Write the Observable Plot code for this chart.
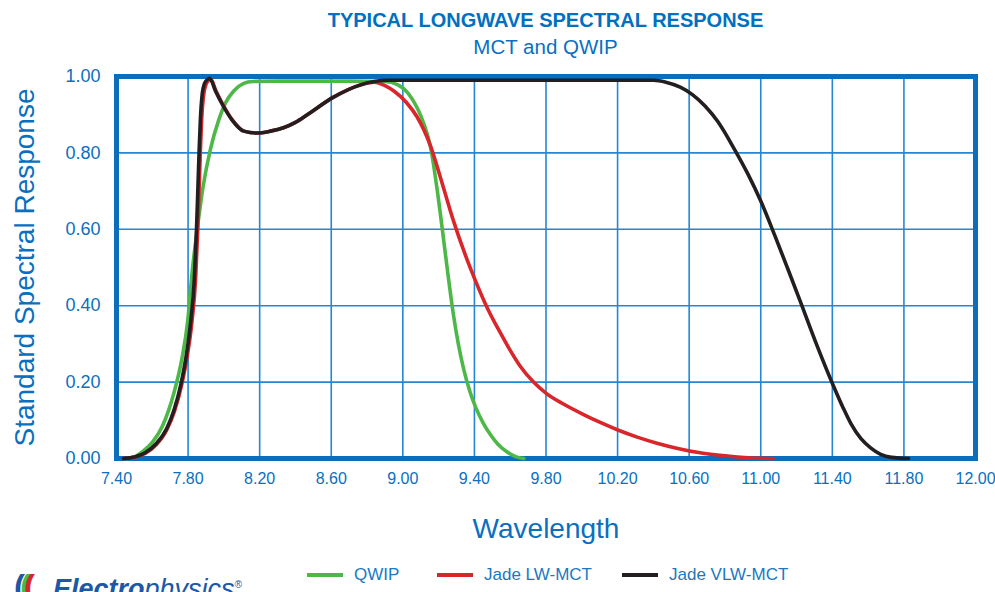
<!DOCTYPE html>
<html>
<head>
<meta charset="utf-8">
<script src="https://cdn.jsdelivr.net/npm/d3@7"></script>
<script src="https://cdn.jsdelivr.net/npm/@observablehq/plot@0.6"></script>
<style>
  html, body { margin: 0; padding: 0; background: #fff; overflow: hidden; }
  #page { position: relative; width: 995px; height: 592px; overflow: hidden; font-family: "Liberation Sans", Arial, Helvetica, sans-serif; color: #0a6fbf; }
  .title { position: absolute; left: 545.5px; transform: translateX(-50%); white-space: nowrap; }
  #t1 { top: 10px; font-size: 20px; line-height: 20px; font-weight: bold; color: #0070c0; }
  #t2 { top: 37px; font-size: 20.5px; line-height: 20.5px; color: #0a6fbf; }
  #chart { position: absolute; left: 0; top: 60px; }
  .leg { position: absolute; top: 565px; height: 20px; display: flex; align-items: center; font-size: 17px; white-space: nowrap; color: #1a78c2; }
  .sw { display: inline-block; width: 36px; height: 4px; margin-right: 11px; }
  #logo { position: absolute; left: 14px; top: 571px; font-size: 27px; line-height: 27px; white-space: nowrap; font-style: italic; color: #1d57a6; }
  #icon { display: inline-block; width: 39px; font-weight: bold; font-size: 33px; font-style: normal; }
</style>
</head>
<body>
<div id="page">
  <div id="t1" class="title">TYPICAL LONGWAVE SPECTRAL RESPONSE</div>
  <div id="t2" class="title">MCT and QWIP</div>
  <div id="chart"></div>
  <div id="legend"></div>
  <div id="logo"><span id="icon"><span style="letter-spacing:-5px;color:#1d57a6">(</span><span style="letter-spacing:-7px;color:#4db848">(</span><span style="color:#d9262b">(</span></span><span style="font-weight:bold">Electro</span><span>physics</span><sup style="font-size:10px">®</sup></div>
</div>
<script>
// ---------- data ----------
const seriesNames = ["QWIP", "Jade LW-MCT", "Jade VLW-MCT"];
const seriesColors = ["#4db848", "#d9262b", "#231f20"];

const qwipWl = [7.46, 7.50, 7.545, 7.60, 7.657, 7.72, 7.765, 7.798, 7.823, 7.851, 7.884, 7.925, 7.972, 8.009, 8.055, 8.111, 8.16, 8.30, 8.50, 8.70, 8.90, 8.97, 9.03, 9.08, 9.12, 9.155, 9.19, 9.222, 9.25, 9.28, 9.31, 9.341, 9.375, 9.406, 9.45, 9.49, 9.53, 9.583, 9.63, 9.676];
const qwipResp = [0, 0.004, 0.018, 0.042, 0.085, 0.17, 0.26, 0.36, 0.49, 0.60, 0.712, 0.81, 0.887, 0.931, 0.962, 0.982, 0.987, 0.988, 0.988, 0.988, 0.987, 0.979, 0.956, 0.918, 0.873, 0.815, 0.71, 0.595, 0.49, 0.385, 0.30, 0.232, 0.175, 0.135, 0.092, 0.062, 0.038, 0.017, 0.005, 0];

const lwWl = [7.44, 7.50, 7.56, 7.62, 7.68, 7.725, 7.765, 7.796, 7.822, 7.842, 7.854, 7.862, 7.869, 7.876, 7.885, 7.899, 7.915, 7.926, 7.956, 7.993, 8.048, 8.111, 8.186, 8.26, 8.333, 8.40, 8.466, 8.613, 8.763, 8.84, 8.90, 8.95, 9.02, 9.08, 9.155, 9.22, 9.283, 9.345, 9.406, 9.476, 9.546, 9.60, 9.658, 9.73, 9.803, 9.90, 10.01, 10.10, 10.205, 10.31, 10.42, 10.53, 10.66, 10.80, 10.93, 11.07];
const lwResp = [0, 0.003, 0.013, 0.035, 0.074, 0.125, 0.195, 0.27, 0.36, 0.47, 0.60, 0.71, 0.81, 0.89, 0.945, 0.978, 0.99, 0.993, 0.962, 0.928, 0.886, 0.857, 0.852, 0.857, 0.866, 0.88, 0.90, 0.946, 0.978, 0.985, 0.976, 0.962, 0.932, 0.894, 0.818, 0.72, 0.622, 0.538, 0.465, 0.39, 0.328, 0.283, 0.24, 0.20, 0.17, 0.142, 0.115, 0.095, 0.074, 0.056, 0.04, 0.027, 0.015, 0.007, 0.002, 0];

const vlwWl = [7.44, 7.50, 7.56, 7.62, 7.68, 7.72, 7.76, 7.79, 7.815, 7.835, 7.847, 7.855, 7.862, 7.869, 7.878, 7.892, 7.91, 7.921, 7.953, 7.99, 8.046, 8.111, 8.186, 8.26, 8.333, 8.40, 8.466, 8.613, 8.763, 8.84, 8.92, 9.50, 10.00, 10.40, 10.47, 10.55, 10.62, 10.69, 10.76, 10.85, 10.93, 11.00, 11.08, 11.15, 11.222, 11.315, 11.41, 11.46, 11.503, 11.56, 11.614, 11.67, 11.73, 11.826];
const vlwResp = [0, 0.004, 0.015, 0.038, 0.078, 0.125, 0.195, 0.27, 0.36, 0.47, 0.60, 0.71, 0.81, 0.89, 0.95, 0.982, 0.993, 0.995, 0.962, 0.928, 0.886, 0.857, 0.852, 0.857, 0.866, 0.88, 0.90, 0.946, 0.978, 0.987, 0.99, 0.99, 0.99, 0.99, 0.985, 0.972, 0.952, 0.922, 0.882, 0.812, 0.743, 0.674, 0.582, 0.498, 0.41, 0.295, 0.186, 0.133, 0.092, 0.052, 0.028, 0.011, 0.003, 0];

const xTicks = [7.4, 7.8, 8.2, 8.6, 9.0, 9.4, 9.8, 10.2, 10.6, 11.0, 11.4, 11.8, 12.2];
const xTickLabels = ["7.40", "7.80", "8.20", "8.60", "9.00", "9.40", "9.80", "10.20", "10.60", "11.00", "11.40", "11.80", "12.00"];
const yTicks = [0, 0.2, 0.4, 0.6, 0.8, 1.0];
const yTickLabels = ["0.00", "0.20", "0.40", "0.60", "0.80", "1.00"];
const xLabel = "Wavelength";
const yLabel = "Standard Spectral Response";

// ---------- build table ----------
const rows = [];
[[qwipWl, qwipResp], [lwWl, lwResp], [vlwWl, vlwResp]].forEach(([w, r], s) => {
  w.forEach((x, i) => rows.push({series: seriesNames[s], wl: x, resp: r[i]}));
});
const xLab = new Map(xTicks.map((t, i) => [t.toFixed(2), xTickLabels[i]]));
const yLab = new Map(yTicks.map((t, i) => [t.toFixed(2), yTickLabels[i]]));

const blue = "#0a6fbf";
const gridBlue = "#2387d6";
const frameBlue = "#0a6ebd";

const chart = Plot.plot({
  width: 995,
  height: 488,
  marginLeft: 116,
  marginRight: 20,
  marginTop: 16,
  marginBottom: 90,
  style: {fontFamily: "'Liberation Sans', Arial, sans-serif", color: blue, background: "transparent", overflow: "visible"},
  x: {domain: [7.4, 12.2]},
  y: {domain: [0, 1]},
  color: {domain: seriesNames, range: seriesColors},
  marks: [
    Plot.gridX(xTicks, {stroke: gridBlue, strokeOpacity: 1, strokeWidth: 1.6}),
    Plot.gridY(yTicks, {stroke: gridBlue, strokeOpacity: 1, strokeWidth: 1.6}),
    Plot.frame({stroke: frameBlue, strokeWidth: 5}),
    Plot.line(rows, {x: "wl", y: "resp", z: "series", stroke: "series", curve: "monotone-x", strokeWidth: 3.6, strokeLinejoin: "round"}),
    Plot.axisX(xTicks, {tickSize: 0, tickPadding: 14, fontSize: 16, tickFormat: d => xLab.get(d.toFixed(2)), label: null}),
    Plot.axisY(yTicks, {tickSize: 0, tickPadding: 16, fontSize: 18, tickFormat: d => yLab.get(d.toFixed(2)), label: null}),
    Plot.text([xLabel], {frameAnchor: "bottom", dy: 60, lineAnchor: "top", textAnchor: "middle", fontSize: 28, fill: blue}),
    Plot.text([yLabel], {frameAnchor: "left", dx: -102, rotate: -90, lineAnchor: "top", textAnchor: "middle", fontSize: 28, fill: blue})
  ]
});
document.getElementById("chart").appendChild(chart);

// ---------- legend ----------
const legPos = [307, 437, 622];
const legend = document.getElementById("legend");
seriesNames.forEach((name, i) => {
  const item = document.createElement("div");
  item.className = "leg";
  item.style.left = legPos[i] + "px";
  const sw = document.createElement("span");
  sw.className = "sw";
  sw.style.background = seriesColors[i];
  item.appendChild(sw);
  item.appendChild(document.createTextNode(name));
  legend.appendChild(item);
});
</script>
</body>
</html>
